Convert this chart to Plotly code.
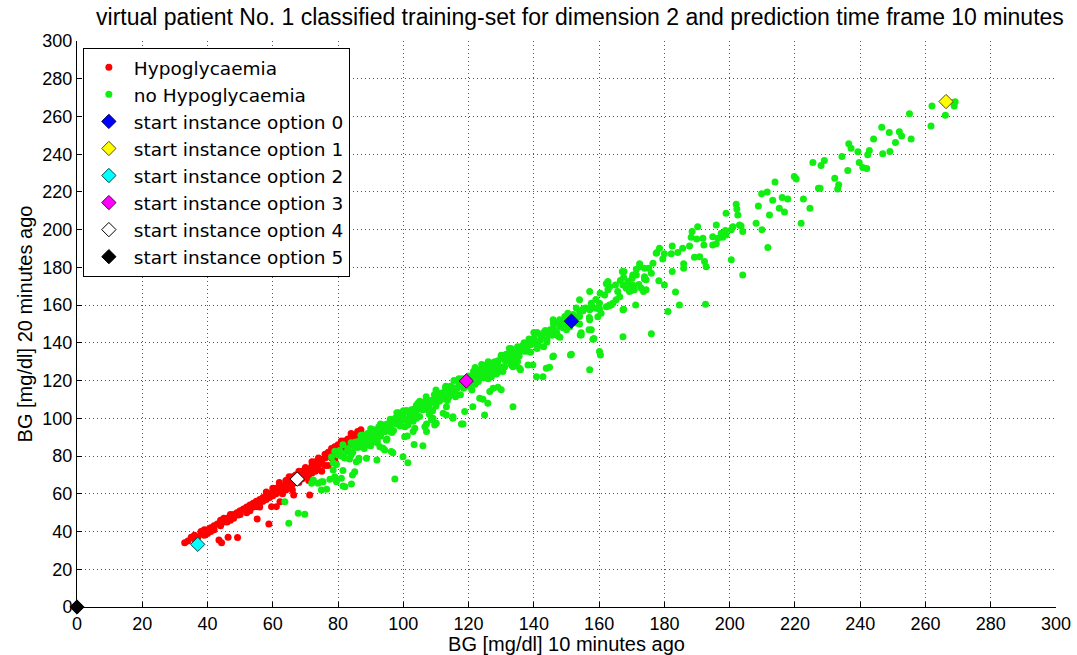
import plotly.graph_objects as go

title_text = "virtual patient No. 1 classified training-set for dimension 2 and prediction time frame 10 minutes"
x_label = "BG [mg/dl] 10 minutes ago"
y_label = "BG [mg/dl] 20 minutes ago"
tick_vals = [0, 20, 40, 60, 80, 100, 120, 140, 160, 180, 200, 220, 240, 260, 280, 300]

# ---- Hypoglycaemia (red) ----
rx_band = [33, 34, 35, 36, 36, 37, 38, 38, 39, 40, 40, 41, 42, 42, 43, 44, 44, 45, 46, 46,
           47, 48, 48, 49, 50, 50, 51, 52, 52, 53, 54, 54, 55, 56, 56, 57, 57, 58, 58, 59,
           59, 60, 60, 60, 61, 61, 62, 62, 63, 63, 64, 64, 64, 65, 65, 66, 66, 67, 67, 68,
           68, 69, 69, 70, 70, 70, 71, 71, 72, 72, 72, 73, 73, 74, 74, 75, 75, 76, 76, 77,
           77, 78, 78, 79, 79, 80, 80, 81, 81, 82, 76, 74, 73, 83, 84, 85, 86, 87, 82, 84,
           85, 78, 80]
ry_band = [34, 35, 37, 36, 38, 37, 39, 40, 38, 41, 39, 42, 41, 43, 44, 43, 46, 45, 47, 45,
           46, 49, 47, 50, 49, 51, 52, 50, 53, 54, 53, 55, 56, 55, 57, 58, 56, 59, 57, 60,
           58, 61, 59, 63, 60, 63, 61, 64, 64, 62, 65, 62, 67, 64, 67, 65, 69, 66, 70, 70,
           66, 72, 68, 73, 69, 71, 73, 70, 75, 71, 77, 72, 77, 76, 73, 78, 76, 79, 75, 80,
           82, 81, 79, 83, 85, 83, 86, 85, 88, 87, 81, 79, 74, 89, 90, 91, 93, 94, 88, 92,
           89, 84, 84]
rx_extra = [62, 65, 66, 68, 70, 71, 63, 58, 56, 53, 45, 47, 41, 39, 75, 77, 79, 82, 83, 86]
ry_extra = [66, 69, 62, 72, 74, 67, 60, 61, 53, 51, 47, 49, 40, 41, 72, 75, 78, 84, 86, 90]
rx_out = [43.5, 44.3, 46.3, 49.2, 49.4, 55.2, 58.8, 59.6, 61.1, 55.2, 71.3, 66.4, 62.2]
ry_out = [35.5, 34.0, 37.0, 36.8, 48.8, 46.7, 44.0, 53.2, 53.2, 53.2, 59.4, 59.4, 55.8]

# ---- no Hypoglycaemia (green) ----
gx_band1 = [78.0, 78.5, 79.0, 79.5, 80.0, 80.5, 81.0, 81.5, 82.0, 82.5,
            83.0, 83.5, 84.0, 84.5, 85.0, 85.5, 86.0, 86.5, 87.0, 87.5,
            88.0, 88.5, 89.0, 89.5, 90.0, 90.5, 91.0, 91.5, 92.0, 92.5,
            93.0, 93.5, 94.0, 94.5, 95.0, 95.5, 96.0, 96.5, 97.0, 97.5,
            98.0, 98.5, 99.0, 99.5, 100.0, 100.5, 101.0, 101.5, 102.0, 102.5,
            103.0, 103.5, 104.0, 104.5, 105.0, 105.5, 106.0, 106.5, 107.0, 107.5,
            108.0, 108.5, 109.0, 109.5, 110.0, 110.5, 111.0, 111.5, 112.0, 112.5,
            113.0, 113.5, 114.0, 114.5, 115.0, 115.5, 116.0, 116.5, 117.0, 117.5,
            118.0, 118.5, 119.0, 119.5, 120.0, 120.5, 121.0, 121.5, 122.0, 122.5,
            123.0, 123.5, 124.0, 124.5, 125.0, 125.5, 126.0, 126.5, 127.0, 127.5,
            128.0, 128.5, 129.0, 129.5, 130.0, 130.5, 131.0, 131.5, 132.0, 132.5,
            133.0, 133.5, 134.0, 134.5, 135.0, 135.5, 136.0, 136.5, 137.0, 137.5,
            138.0, 138.5, 139.0, 139.5, 140.0, 140.5, 141.0, 141.5, 142.0, 142.5,
            143.0, 143.5, 144.0, 144.5, 145.0, 145.5, 146.0, 146.5, 147.0, 147.5,
            148.0, 148.5, 149.0, 149.5, 150.0, 150.5, 151.0, 152.0, 153.0, 154.0, 155.0]
gy_band1 = [79.5, 76.5, 82.5, 75.5, 80.5, 83.0, 80.0, 86.0, 79.0, 82.0,
            84.0, 78.5, 87.0, 82.0, 85.0, 87.5, 84.5, 88.0, 85.0, 91.0,
            84.0, 89.0, 91.5, 88.5, 94.5, 87.5, 90.5, 92.5, 87.0, 95.5,
            90.5, 93.5, 96.0, 93.0, 96.5, 93.5, 99.5, 92.5, 97.5, 100.0,
            97.0, 103.0, 96.0, 99.0, 101.0, 95.5, 104.0, 99.0, 102.0, 104.5,
            101.5, 105.0, 102.0, 108.0, 101.0, 106.0, 108.5, 105.5, 111.5, 104.5,
            107.5, 109.5, 104.0, 112.5, 107.5, 110.5, 113.0, 110.0, 113.5, 110.5,
            116.5, 109.5, 114.5, 117.0, 114.0, 120.0, 113.0, 116.0, 118.0, 112.5,
            121.0, 116.0, 119.0, 121.5, 118.5, 122.0, 119.0, 125.0, 118.0, 123.0,
            125.5, 122.5, 128.5, 121.5, 124.5, 126.5, 121.0, 129.5, 124.5, 127.5,
            130.0, 127.0, 130.5, 127.5, 133.5, 126.5, 131.5, 134.0, 131.0, 137.0,
            130.0, 133.0, 135.0, 129.5, 138.0, 133.0, 136.0, 138.5, 135.5, 139.0,
            136.0, 142.0, 135.0, 140.0, 142.5, 139.5, 145.5, 138.5, 141.5, 143.5,
            138.0, 146.5, 141.5, 144.5, 147.0, 144.0, 147.5, 144.5, 150.5, 143.5,
            148.5, 151.0, 148.0, 154.0, 147.0, 150.0, 152.0, 155.0, 150.5, 154.0, 157.0]

gx_band2 = [84, 85, 86, 87, 88, 89, 90, 91, 92, 93,
            94, 95, 96, 97, 98, 99, 100, 101, 102, 103,
            104, 105, 106, 107, 108, 109, 110, 111, 112, 113,
            114, 115, 116, 117, 118, 119, 120, 121, 122, 123,
            124, 125, 126, 127, 128, 129, 130, 131, 132, 133,
            134, 135]
gy_band2 = [80.5, 87.0, 85.5, 91.0, 86.0, 90.0, 85.5, 94.0, 92.0, 91.5,
            96.5, 89.0, 96.5, 93.5, 100.0, 98.5, 104.0, 99.0, 103.0, 98.5,
            107.0, 105.0, 104.5, 109.5, 102.0, 109.5, 106.5, 113.0, 111.5, 117.0,
            112.0, 116.0, 111.5, 120.0, 118.0, 117.5, 122.5, 115.0, 122.5, 119.5,
            126.0, 124.5, 130.0, 125.0, 129.0, 124.5, 133.0, 131.0, 130.5, 135.5,
            128.0, 135.5]

gx_band3 = [88, 89, 90, 91, 92, 93, 94, 95, 96, 97, 98, 99,
            100, 101, 102, 103, 104, 105, 106, 107, 108, 109, 110, 111,
            112, 113, 114, 115, 116, 117, 118, 119, 120, 121, 122, 123,
            124, 125, 126, 127, 128]
gy_band3 = [88.0, 92.0, 87.5, 92.5, 88.0, 97.0, 93.0, 97.0, 93.0, 97.5, 103.0, 97.0,
            100.0, 104.0, 99.5, 104.5, 100.0, 109.0, 105.0, 109.0, 105.0, 109.5, 115.0, 109.0,
            112.0, 116.0, 111.5, 116.5, 112.0, 121.0, 117.0, 121.0, 117.0, 121.5, 127.0, 121.0,
            124.0, 128.0, 123.5, 128.5, 124.0]

gx_band4 = [130, 131, 132, 133, 134, 135, 136, 137, 138, 139, 140, 141, 142,
            143, 144, 145, 146, 147, 148, 149, 150, 151, 152, 153, 154, 155,
            156, 157, 158, 159, 160]
gy_band4 = [132.5, 127.5, 132.5, 137.0, 132.5, 130.0, 137.5, 140.0, 135.5, 139.0, 145.5, 137.0, 144.0,
            145.5, 140.5, 145.5, 150.0, 145.5, 143.0, 150.5, 153.0, 148.5, 152.0, 158.5, 150.0, 157.0,
            158.5, 153.5, 158.5, 163.0, 158.5]

gx_low = [71.9, 73.9, 75.4, 76.5, 77.5, 78.5, 79.5, 81.5, 82.1, 84.1, 84.4, 85.6, 86.4, 74.9, 81.0,
          63.7, 64.9, 67.8, 69.8, 79.0, 74.9, 72.4, 81.5, 85.1, 86.3, 88.7, 91.9, 89.2, 90.2, 92.8,
          94.3, 96.8, 97.4, 99.9, 101.4, 103.3, 106.0, 100.4, 101.2, 103.0, 103.5, 106.6, 109.1, 110.1,
          112.2, 113.2, 115.2, 117.8, 118.8, 124.9, 125.9, 123.4, 124.4, 126.5, 127.5, 129.0, 133.6,
          133.1, 135.6, 139.7, 142.8, 143.8, 144.8, 145.8, 151.5, 154.5, 158.1, 160.1, 160.4, 157.1,
          93.8, 96.3, 101.4, 107.1, 107.1, 109.6, 108.6, 113.2, 115.2, 118.3, 121.3, 131.0, 130.0, 94.8,
          151.2, 146.0, 140.8, 138.2, 135.9, 133.6, 132.6, 130.5, 128.5, 127.0, 157.1, 157.6, 154.5,
          167.3, 176.0]
gy_low = [65.6, 65.6, 66.4, 62.4, 67.7, 72.6, 66.4, 72.3, 63.8, 65.2, 70.0, 77.0, 78.8, 62.0, 68.2,
          55.8, 44.4, 49.7, 49.2, 69.1, 66.4, 67.3, 64.2, 71.7, 77.9, 78.8, 77.9, 85.9, 88.5, 85.0,
          83.2, 81.8, 67.9, 79.7, 76.5, 86.1, 85.5, 90.3, 90.7, 93.0, 94.7, 95.6, 100.0, 97.4,
          102.7, 106.2, 100.9, 97.0, 103.6, 101.8, 108.0, 110.7, 110.1, 114.2, 116.0, 116.5, 106.2,
          128.3, 126.6, 128.3, 122.1, 126.6, 127.1, 132.7, 134.0, 145.4, 141.9, 135.4, 133.6, 125.7,
          84.1, 82.4, 96.5, 97.0, 93.0, 96.5, 99.2, 101.8, 100.0, 97.0, 106.2, 127.4, 115.1, 88.5,
          133.6, 133.1, 122.1, 128.3, 125.7, 127.4, 132.7, 124.8, 123.5, 122.1, 152.2, 146.9, 144.2,
          143.3, 144.8]

gx_up = [154.0, 155.5, 157.1, 158.1, 159.1, 160.1, 161.7, 162.7, 163.7, 165.2, 165.7, 167.3, 168.3,
         168.8, 170.3, 171.4, 172.4, 173.9, 174.4, 176.0, 176.5, 177.5, 167.6, 162.7, 163.2, 160.1,
         162.2, 164.2, 167.3, 166.3, 169.3, 172.9, 174.4,
         158.4, 157.1, 157.6, 159.6, 155.0, 153.5, 154.0, 150.4, 154.2, 156.9, 147.9, 145.9, 162.9,
         225.5, 219.8, 220.4, 213.9, 227.2, 222.6, 216.1, 217.8, 211.5, 209.8, 213.2, 208.8, 224.6,
         215.2, 216.8, 212.2, 221.9, 208.1, 209.9, 198.9, 202.0, 202.2, 202.5, 203.0, 203.5, 204.0,
         201.0, 200.5, 195.9, 198.7, 197.4, 198.9, 197.9, 196.4, 194.8, 194.8, 195.9, 191.8, 192.1,
         190.2, 189.9, 188.5, 187.7, 188.2, 190.8, 192.3, 192.8, 189.2, 185.6, 184.1, 182.4, 182.1,
         180.0, 179.5, 178.5, 177.7, 175.2, 173.9, 172.4, 171.4, 170.3, 170.1, 167.1, 167.5, 166.5,
         165.0, 162.2, 168.5, 169.3, 169.8, 170.8, 172.2, 173.9, 173.6, 178.3, 180.0, 182.4, 183.4,
         185.9, 185.9, 192.6, 184.6, 181.1, 171.2, 167.5, 163.2, 160.3, 160.6, 204.0, 200.5, 211.7,
         262.0, 268.5, 268.8, 269.1, 266.1, 261.7, 255.1, 255.6, 246.6, 248.9, 252.0, 252.7, 250.8,
         244.1, 249.1, 246.9, 242.8, 242.3, 239.3, 236.5, 237.2, 234.4, 239.7, 240.8, 242.0, 236.2,
         232.2, 233.4, 233.1, 227.7, 228.0, 229.0]
gy_up = [156.6, 158.4, 157.5, 158.9, 158.4, 161.0, 165.4, 168.1, 160.1, 162.8, 167.2, 170.7, 169.0,
         172.5, 170.7, 176.0, 180.4, 175.1, 173.4, 176.9, 182.2, 187.5, 177.8, 172.5, 169.8, 157.8,
         159.2, 161.0, 157.5, 164.5, 167.2, 169.0, 168.1,
         142.3, 167.2, 161.0, 153.9, 157.8, 153.9, 162.8, 155.7, 144.2, 146.9, 152.2, 152.2, 159.6,
         235.6, 228.2, 226.8, 225.2, 222.0, 216.2, 217.0, 216.3, 219.9, 219.0, 215.6, 212.6, 211.4,
         211.4, 209.3, 207.8, 203.4, 203.4, 199.9, 208.7, 213.5, 210.9, 207.8, 202.5, 202.0, 199.0,
         201.6, 199.9, 202.5, 199.5, 198.1, 197.2, 196.0, 195.5, 196.3, 191.9, 192.5, 195.5, 191.9,
         201.6, 195.0, 199.0, 191.4, 196.0, 185.7, 183.1, 180.4, 185.4, 190.2, 187.9, 191.4, 187.2,
         187.2, 184.4, 190.2, 187.9, 179.6, 179.6, 181.9, 179.0, 176.0, 174.3, 177.8, 174.8, 173.0,
         170.7, 171.3, 170.7, 169.0, 167.7, 168.1, 170.9, 173.8, 167.2, 172.9, 170.7, 177.8, 166.9,
         181.9, 179.6, 160.5, 160.1, 156.6, 160.1, 157.8, 160.1, 166.3, 155.7, 176.0, 184.0, 190.5,
         265.6, 267.4, 265.6, 267.8, 260.7, 255.0, 261.4, 248.1, 254.3, 251.5, 251.9, 249.7, 246.2,
         248.1, 241.4, 240.2, 241.9, 239.7, 241.3, 245.5, 243.2, 238.8, 235.6, 232.9, 232.4, 231.3,
         227.3, 223.8, 221.5, 222.0, 234.0, 236.6]

# ---- start instances ----
start_names = ["start instance option 0", "start instance option 1", "start instance option 2",
               "start instance option 3", "start instance option 4", "start instance option 5"]
start_x = [151.5, 266.3, 37.0, 119.3, 67.5, 0.0]
start_y = [151.5, 267.9, 33.2, 119.8, 67.8, 0.0]
start_fill = ["#0000ff", "#ffff00", "#00ffff", "#ff00ff", "#ffffff", "#000000"]
start_edge = ["#000060", "#5a4a00", "#004a4a", "#4a004a", "#000000", "#000000"]

assert len(rx_band) == len(ry_band) and len(rx_out) == len(ry_out) and len(rx_extra) == len(ry_extra)
assert len(gx_band1) == len(gy_band1) and len(gx_band2) == len(gy_band2) and len(gx_band4) == len(gy_band4)
assert len(gx_band3) == len(gy_band3) and len(gx_low) == len(gy_low) and len(gx_up) == len(gy_up)

red_x = rx_band + rx_extra + rx_out
red_y = ry_band + ry_extra + ry_out
green_x = gx_band1 + gx_band2 + gx_band3 + gx_band4 + gx_low + gx_up
green_y = gy_band1 + gy_band2 + gy_band3 + gy_band4 + gy_low + gy_up

FONT = "Liberation Sans, Arial, sans-serif"
LEGEND_FONT = "DejaVu Sans, Liberation Sans, Arial, sans-serif"

fig = go.Figure()
fig.add_trace(go.Scatter(x=red_x, y=red_y, mode="markers", name="Hypoglycaemia",
                         marker=dict(color="#ff0000", size=7, line=dict(width=0))))
fig.add_trace(go.Scatter(x=green_x, y=green_y, mode="markers", name="no Hypoglycaemia",
                         marker=dict(color="#11ee11", size=7, line=dict(width=0))))
for i in range(len(start_names)):
    fig.add_trace(go.Scatter(x=[start_x[i]], y=[start_y[i]], mode="markers", name=start_names[i],
                             cliponaxis=False,
                             marker=dict(symbol="diamond", size=11, color=start_fill[i],
                                         line=dict(color=start_edge[i], width=1))))

axis_common = dict(range=[0, 300], tickvals=tick_vals, showgrid=True, gridcolor="#555555",
                   griddash="1px,3px", gridwidth=1, zeroline=False, showline=True, linecolor="black",
                   linewidth=1, ticks="inside", ticklen=5, tickcolor="black", automargin=False,
                   tickfont=dict(family=FONT, size=18, color="black"))

fig.update_layout(
    width=1077, height=655,
    margin=dict(l=77, r=21, t=41, b=48),
    paper_bgcolor="white", plot_bgcolor="white",
    title=dict(text=title_text, x=0.5385, xanchor="center", xref="container",
               y=1 - 17 / 655, yanchor="middle", yref="container",
               font=dict(family=FONT, size=23, color="black")),
    xaxis=dict(axis_common, title=dict(text=x_label, standoff=2,
                                       font=dict(family=FONT, size=20, color="black"))),
    yaxis=dict(axis_common, title=dict(text=y_label, standoff=4,
                                       font=dict(family=FONT, size=20, color="black"))),
    legend=dict(x=0.006, y=0.988, xanchor="left", yanchor="top", bgcolor="white",
                bordercolor="black", borderwidth=1, itemwidth=40,
                font=dict(family=LEGEND_FONT, size=18.5, color="black")),
    showlegend=True,
)

fig.write_html("out.html")
